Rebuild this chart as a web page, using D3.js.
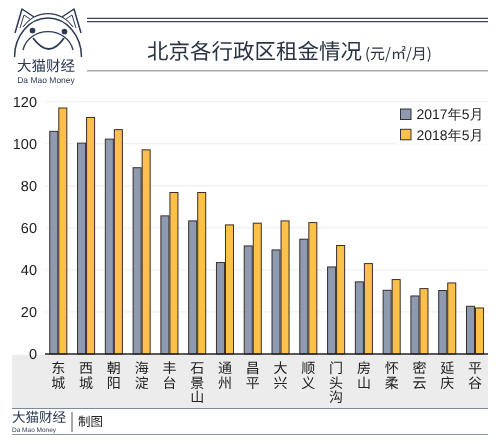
<!DOCTYPE html>
<html><head><meta charset="utf-8">
<script src="https://cdn.jsdelivr.net/npm/d3@7/dist/d3.min.js"></script>
<style>body{margin:0;background:#fff}svg{display:block;will-change:transform}text{text-rendering:geometricPrecision}</style>
</head><body>
<svg id="c" width="500" height="444"></svg>
<script>
const categories = ["东城","西城","朝阳","海淀","丰台","石景山","通州","昌平","大兴","顺义","门头沟","房山","怀柔","密云","延庆","平谷"];
const series2017 = [105.9,100.3,102.2,88.6,65.7,63.3,43.5,51.4,49.5,54.6,41.4,34.3,30.3,27.6,30.2,22.7];
const series2018 = [117,112.5,106.7,97.1,76.8,76.8,61.4,62.2,63.3,62.5,51.6,43,35.4,31.1,33.8,21.9];
const seriesNames = ["2017年5月","2018年5月"];
const yTicks = [0,20,40,60,80,100,120];
const colors = ["#8e9ab0","#fdc04b"];
const cjk = "'Noto Sans CJK SC','Noto Sans',sans-serif";
const latin = "'Liberation Sans',Arial,sans-serif";

const svg = d3.select("#c");
const x0 = d3.scaleBand().domain(categories).range([44.4, 488.9]).paddingInner(0.35).paddingOuter(0.175);
const x1 = d3.scaleBand().domain(seriesNames).range([0, x0.bandwidth()]);
const y = d3.scaleLinear().domain([0,120]).range([354, 101.7]);

// header lines
svg.append("line").attr("x1",87).attr("x2",488).attr("y1",18.3).attr("y2",18.3).attr("stroke","#3a4458").attr("stroke-width",1.2);
svg.append("line").attr("x1",87).attr("x2",488).attr("y1",21.7).attr("y2",21.7).attr("stroke","#3a4458").attr("stroke-width",1.2);
svg.append("line").attr("x1",87).attr("x2",488).attr("y1",70.7).attr("y2",70.7).attr("stroke","#a5a8ad").attr("stroke-width",1.6);
const title = svg.append("text").attr("x",147).attr("y",58.5).attr("font-family",cjk).attr("font-size",21.5).attr("fill","#2b3445");
title.append("tspan").text("北京各行政区租金情况");
title.append("tspan").attr("font-size",15).attr("dx",3).text("(元/㎡/月)");

// logo
const lc = "#2b3a55";
const logo = svg.append("g").attr("fill","none").attr("stroke",lc).attr("stroke-width",1.5).attr("stroke-linejoin","round");
logo.append("path").attr("d","M14.5,57 A33.5,39 0 0 1 81.5,57");
logo.append("path").attr("d","M23,27 A30,30 0 0 1 73,27").attr("stroke-width",1.1);
logo.append("path").attr("d","M23,50 A25.5,23 0 0 1 73,50").attr("stroke-width",1.3);
logo.append("path").attr("d","M15,33 L22,9 L34,17");
logo.append("path").attr("d","M81,33 L74,9 L62,17");
logo.append("path").attr("d","M20,28 L24,15 L30,19").attr("stroke-width",1);
logo.append("path").attr("d","M76,28 L72,15 L66,19").attr("stroke-width",1);
logo.append("path").attr("d","M33,38 Q49,60 64,38").attr("stroke-width",1.8);
logo.append("circle").attr("cx",32.5).attr("cy",30.5).attr("r",2.1).attr("fill",lc);
logo.append("circle").attr("cx",64.5).attr("cy",31.5).attr("r",2.1).attr("fill",lc);
svg.append("text").attr("x",46).attr("y",70.5).attr("text-anchor","middle").attr("font-family",cjk).attr("font-size",14.5).attr("fill",lc).text("大猫财经");
svg.append("text").attr("x",46).attr("y",82.5).attr("text-anchor","middle").attr("font-family",latin).attr("font-size",8.5).attr("fill",lc).text("Da  Mao Money");

// gray band under axis
svg.append("rect").attr("x",12).attr("y",355).attr("width",476).attr("height",53).attr("fill","#ececec");
svg.append("line").attr("x1",12).attr("x2",488).attr("y1",408.5).attr("y2",408.5).attr("stroke","#7d8a9c").attr("stroke-width",1);

// grid
svg.append("g").selectAll("line").data(yTicks.filter(d=>d>0)).join("line")
  .attr("x1",45).attr("x2",488).attr("y1",d=>y(d)).attr("y2",d=>y(d)).attr("stroke","#ececec").attr("stroke-width",1);

// y axis labels
const yAxis = svg.append("g").attr("transform","translate(45,0)").call(d3.axisLeft(y).tickValues(yTicks).tickSize(0).tickPadding(8));
yAxis.select(".domain").remove();
yAxis.selectAll("text").attr("font-family",latin).attr("font-size",14.5).attr("fill","#222");

// legend
const lg = svg.append("g");
lg.append("rect").attr("x",396).attr("y",104).attr("width",92).attr("height",40).attr("fill","#fff");
seriesNames.forEach((n,i)=>{
  lg.append("rect").attr("x",400.5).attr("y",109 + i*20.3).attr("width",10.5).attr("height",10.5).attr("fill",colors[i]).attr("stroke","#333").attr("stroke-width",1);
  lg.append("text").attr("x",416.5).attr("y",119.3+i*20.3).attr("font-family",latin).attr("font-size",14).attr("fill","#222").text(n);
});

// bars
const groups = svg.append("g").selectAll("g").data(categories).join("g").attr("transform",d=>`translate(${x0(d)},0)`);
groups.selectAll("rect").data((d,i)=>[series2017[i],series2018[i]].map((v,k)=>({k,v}))).join("rect")
  .attr("x",d=>x1(seriesNames[d.k])+0.5).attr("width",x1.bandwidth()-1)
  .attr("y",d=>y(d.v)).attr("height",d=>y(0)-y(d.v))
  .attr("fill",d=>colors[d.k]).attr("stroke","#3a2e2a").attr("stroke-width",1);

// x axis line
svg.append("line").attr("x1",45).attr("x2",488).attr("y1",354).attr("y2",354).attr("stroke","#222").attr("stroke-width",1.3);

// category labels, vertical writing
svg.append("g").selectAll("text").data(categories).join("text")
  .attr("font-family",cjk).attr("font-size",14).attr("fill","#222")
  .style("writing-mode","vertical-rl").attr("letter-spacing",0.5)
  .attr("x",d=>x0(d)+x0.bandwidth()/2).attr("y",361).text(d=>d);

// footer
svg.append("text").attr("x",12).attr("y",421.5).attr("font-family",cjk).attr("font-size",13.5).attr("fill",lc).text("大猫财经");
svg.append("text").attr("x",12).attr("y",432.3).attr("font-family",latin).attr("font-size",6.5).attr("fill",lc).text("Da  Mao Money");
svg.append("line").attr("x1",72).attr("x2",72).attr("y1",412).attr("y2",432).attr("stroke","#555").attr("stroke-width",1);
svg.append("text").attr("x",78).attr("y",426).attr("font-family",cjk).attr("font-size",12.5).attr("fill","#222").text("制图");
svg.append("line").attr("x1",12).attr("x2",488).attr("y1",434.5).attr("y2",434.5).attr("stroke","#8a95a5").attr("stroke-width",1);
</script>
</body></html>
